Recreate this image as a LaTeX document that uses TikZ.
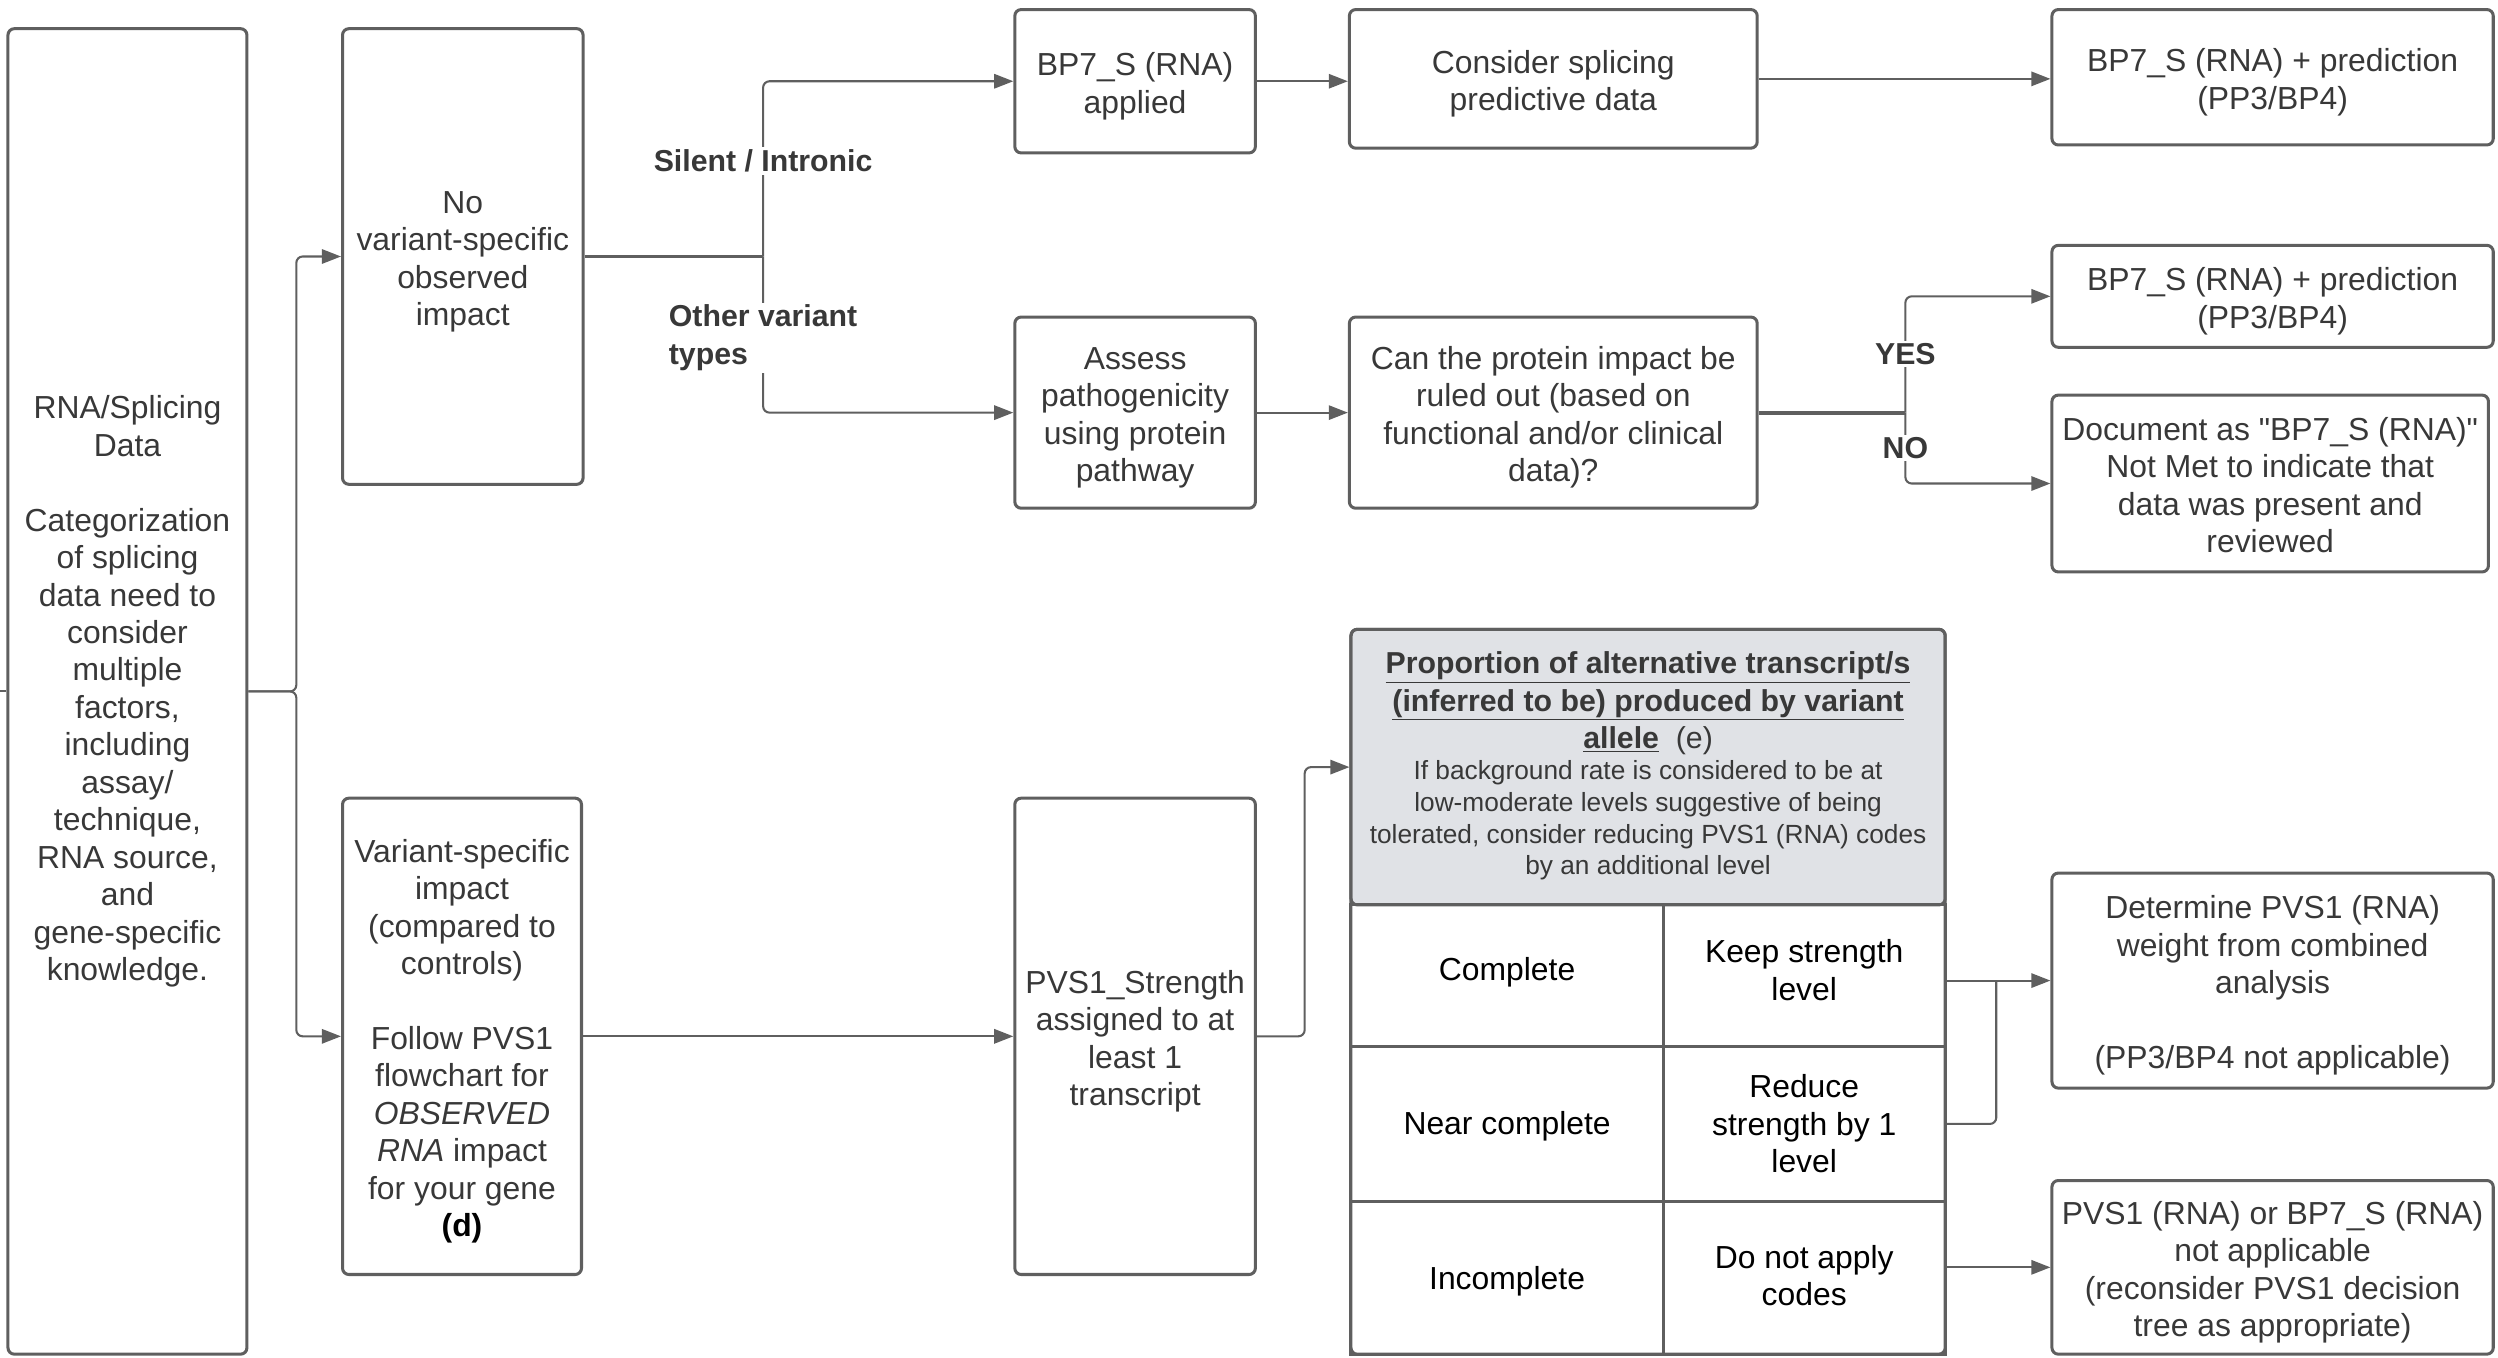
\documentclass[tikz,border=0pt]{standalone}
\usepackage{fontspec}
\setmainfont{Liberation Sans}
\usetikzlibrary{arrows.meta,calc}
\definecolor{ln}{HTML}{5F5F5F}
\definecolor{tx}{HTML}{383838}
\definecolor{hdrfill}{HTML}{E0E2E6}
\newcommand\dropbox[2]{\raisebox{#1}[\height][\depth]{\begin{tabular}{@{}c@{}}#2\end{tabular}}}
\newcommand\bxdrop{-3.5pt}
\newcommand\mkbox[7][]{%
  \node[box,#1,minimum width={(#5)-(#3)},minimum height={(#6)-(#4)}] (#2) at ({((#3)+(#5))/2},{((#4)+(#6))/2}) {\dropbox{\bxdrop}{#7}};}
\begin{document}
\begin{tikzpicture}[x=1pt,y=-1pt,
  box/.style={draw=ln, line width=1.9pt, rounded corners=4pt, inner sep=0pt, align=center, text=tx, font=\fontsize{20}{23.5}\selectfont},
  conn/.style={draw=ln, line width=1.3pt, rounded corners=4pt},
  arr/.style={conn, -{Triangle[length=12pt,width=9pt]}},
  lbl/.style={fill=white, inner sep=1.5pt, text=tx, font=\bfseries\fontsize{19}{23.5}\selectfont, align=left},
  cell/.style={draw=ln, line width=1.9pt, inner sep=0pt, align=center, text=black, font=\fontsize{20}{23.5}\selectfont},
]
\useasboundingbox (0,0) rectangle (1568,852);

{\renewcommand\bxdrop{-0.5pt}%
\mkbox{A}{5}{18}{155}{850}{RNA/Splicing\\Data\\[23.5pt]Categorization\\of splicing\\data need to\\consider\\multiple\\factors,\\including\\assay/\\technique,\\RNA source,\\and\\gene-specific\\knowledge.}}
\mkbox{B}{215}{18}{366}{304}{No\\variant-specific\\observed\\impact}
\mkbox{C}{215}{501}{365}{800}{Variant-specific\\impact\\(compared to\\controls)\\[23.5pt]Follow PVS1\\flowchart for\\\textit{OBSERVED}\\\textit{RNA} impact\\for your gene\\\textcolor{black}{\textbf{(d)}}}
\mkbox{D}{637}{6}{788}{96}{BP7\_S (RNA)\\applied}
\mkbox{E}{847}{6}{1103}{93}{Consider splicing\\predictive data}
\mkbox{F}{1288}{6}{1565}{91}{BP7\_S (RNA) + prediction\\(PP3/BP4)}
\mkbox{G}{637}{199}{788}{319}{Assess\\pathogenicity\\using protein\\pathway}
\mkbox{H}{847}{199}{1103}{319}{Can the protein impact be\\ruled out (based on\\functional and/or clinical\\data)?}
\mkbox{I}{1288}{154}{1565}{218}{BP7\_S (RNA) + prediction\\(PP3/BP4)}
\mkbox{J}{1288}{248}{1562}{359}{Document as \textquotedbl BP7\_S (RNA)\textquotedbl\\Not Met to indicate that\\data was present and\\reviewed}
\mkbox{L}{637}{501}{788}{800}{PVS1\_Strength\\assigned to at\\least 1\\transcript}
\mkbox{M}{1288}{548}{1565}{683}{Determine PVS1 (RNA)\\weight from combined\\analysis\\[23.5pt](PP3/BP4 not applicable)}
\mkbox{N}{1288}{741}{1565}{850}{PVS1 (RNA) or BP7\_S (RNA)\\not applicable\\(reconsider PVS1 decision\\tree as appropriate)}

% table
\node[draw=ln, fill=hdrfill, line width=1.9pt, rounded corners=4pt, inner sep=0pt, minimum width=373, minimum height=173] (hdr) at (1034.5,481.5) {};
\node[text=tx, align=center, inner sep=0pt, font=\bfseries\fontsize{19}{23.5}\selectfont] (ttl) at (1034.5,441.5) {\underline{Proportion of alternative transcript/s}\\\underline{(inferred to be) produced by variant}\\\underline{allele}\ \ {\mdseries (e)}};
\node[text=tx, align=center, inner sep=0pt, font=\fontsize{16.5}{19.8}\selectfont] (note) at (1034.5,515) {If background rate is considered to be at\\low-moderate levels suggestive of being\\tolerated, consider reducing PVS1 (RNA) codes\\by an additional level};
\node[cell, minimum width=196, minimum height=89] (c11) at (946,612.5) {\dropbox{2pt}{Complete}};
\node[cell, minimum width=177, minimum height=89] (c12) at (1132.5,612.5) {\dropbox{1pt}{Keep strength\\level}};
\node[cell, minimum width=196, minimum height=97] (c21) at (946,705.5) {\dropbox{-2pt}{Near complete}};
\node[cell, minimum width=177, minimum height=97] (c22) at (1132.5,705.5) {Reduce\\strength by 1\\level};
\node[cell, minimum width=196, minimum height=96] (c31) at (946,802) {\dropbox{-3pt}{Incomplete}};
\node[cell, minimum width=177, minimum height=96] (c32) at (1132.5,802) {\dropbox{-1pt}{Do not apply\\codes}};
\node[draw=ln, line width=1.9pt, rounded corners=4pt, inner sep=0pt, minimum width=373, minimum height=455] (tbl) at (1034.5,622.5) {};

% connectors
\coordinate (inA) at (0,434);
\draw[conn] (inA) -- (A.west);
\coordinate (ja) at (186,434);
\draw[arr] (A.east) -- (ja) |- (B.west);
\draw[arr] (A.east) -- (ja) |- (C.west);

\coordinate (jb) at (479,161);
\draw[conn, line width=2.4pt] (B.east) -- (jb);
\draw[arr] (jb) |- (D.west);
\draw[arr] (jb) |- (G.west);
\node[lbl] (sil) at (479,101) {Silent / Intronic};
\node[lbl] (oth) at (479,212) {Other variant\\types};

\draw[arr] (D.east) -- (E.west |- D.east);
\draw[arr] (E.east) -- (F.west |- E.east);
\draw[arr] (G.east) -- (H.west |- G.east);

\coordinate (jh) at (1196,259);
\draw[conn, line width=2.4pt] (H.east) -- (jh);
\draw[arr] (jh) |- (I.west);
\draw[arr] (jh) |- (J.west);
\node[lbl] (yes) at (1196,222) {YES};
\node[lbl] (no) at (1196,281) {NO};

\draw[arr] (C.east) -- (L.west |- C.east);
\draw[arr] (L.east) -- ++(30,0) |- (hdr.west);

\draw[arr] (c12.east |- M.west) -- (M.west);
\draw[conn] (c22.east) -| ($(M.west)+(-34,0)$);
\draw[arr] (c32.east |- N.west) -- (N.west);
\end{tikzpicture}
\end{document}
